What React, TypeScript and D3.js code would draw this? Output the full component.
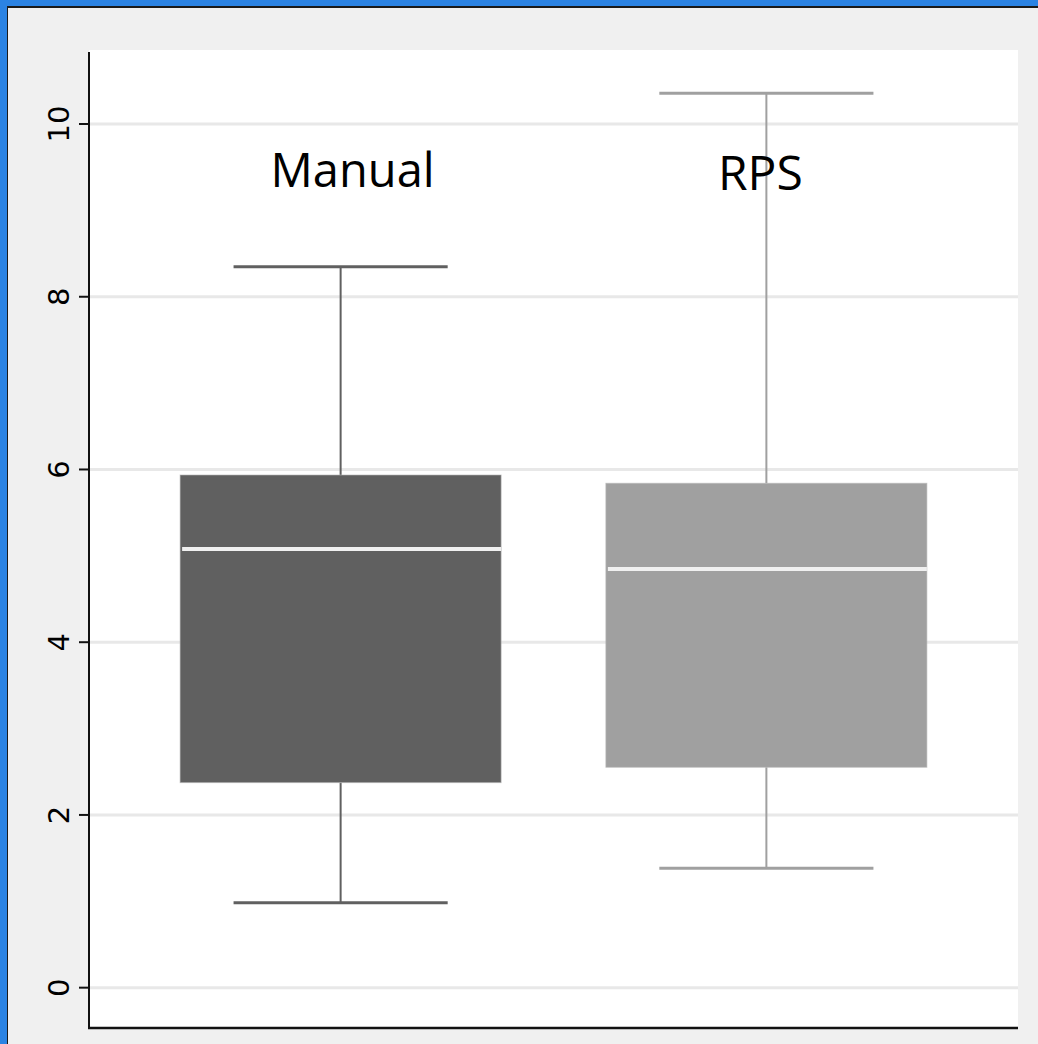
import React from "react";
import * as d3 from "d3";

// Box-plot summary for the two methods
const categories = ["Manual", "RPS"];
const q1Values = [2.374, 2.552];
const medianValues = [5.079, 4.848];
const q3Values = [5.936, 5.84];
const lowerWhiskers = [0.984, 1.382];
const upperWhiskers = [8.347, 10.355];
const yTicks = [0, 2, 4, 6, 8, 10];
const boxColors = ["#606060", "#a0a0a0"];
const labelValue = 9.27;

const W = 1038;
const H = 1044;
const plot = { left: 89, right: 1018, top: 50, bottom: 1028 };

export default function App() {
  const y = d3.scaleLinear().domain([-0.467, 10.857]).range([plot.bottom, plot.top]);
  const x = d3.scalePoint<string>().domain(categories).range([plot.left, plot.right]).padding(0.591);
  const step = x.step();
  const boxW = step * 0.754;
  const capW = boxW * 0.667;

  return (
    <svg
      width={W}
      height={H}
      style={{ position: "absolute", left: 0, top: 0, display: "block" }}
      fontFamily="'DejaVu Sans', Verdana, sans-serif"
    >
      {/* window frame */}
      <rect x={0} y={0} width={W} height={H} fill="#2b83e3" />
      <rect x={7} y={6} width={W - 7} height={H - 6} fill="#1a1a1a" />
      <rect x={8} y={8} width={W - 8} height={H - 8} fill="#f0f0f0" />

      {/* plot region */}
      <rect x={plot.left} y={plot.top} width={plot.right - plot.left} height={plot.bottom - plot.top} fill="#ffffff" />

      {/* grid lines */}
      {yTicks.map((t) => (
        <line key={"g" + t} x1={plot.left} x2={plot.right} y1={y(t)} y2={y(t)} stroke="#e8e8e8" strokeWidth={3} />
      ))}

      {/* boxes */}
      {categories.map((c, i) => {
        const cx = x(c)!;
        const col = boxColors[i];
        return (
          <g key={c}>
            <line x1={cx} x2={cx} y1={y(upperWhiskers[i])} y2={y(q3Values[i])} stroke={col} strokeWidth={2} />
            <line x1={cx} x2={cx} y1={y(q1Values[i])} y2={y(lowerWhiskers[i])} stroke={col} strokeWidth={2} />
            <line x1={cx - capW / 2} x2={cx + capW / 2} y1={y(upperWhiskers[i])} y2={y(upperWhiskers[i])} stroke={col} strokeWidth={3} />
            <line x1={cx - capW / 2} x2={cx + capW / 2} y1={y(lowerWhiskers[i])} y2={y(lowerWhiskers[i])} stroke={col} strokeWidth={3} />
            <rect
              x={cx - boxW / 2}
              y={y(q3Values[i])}
              width={boxW}
              height={y(q1Values[i]) - y(q3Values[i])}
              fill={col}
              stroke="#b4b4b4"
              strokeOpacity={0.6}
              strokeWidth={1}
            />
            <line
              x1={cx - boxW / 2 + 2}
              x2={cx + boxW / 2}
              y1={y(medianValues[i])}
              y2={y(medianValues[i])}
              stroke="#f0f0f0"
              strokeWidth={4}
            />
          </g>
        );
      })}

      {/* category labels */}
      <text x={x("Manual")! + 12} y={y(labelValue)} textAnchor="middle" fontFamily="'Open Sans', 'Noto Sans', sans-serif" fontSize={47} fill="#000">
        Manual
      </text>
      <text x={x("RPS")! - 6} y={y(labelValue) + 3} textAnchor="middle" fontFamily="'Open Sans', 'Noto Sans', sans-serif" fontSize={48} fill="#000">
        RPS
      </text>

      {/* axes */}
      <line x1={plot.left} x2={plot.left} y1={plot.top + 2} y2={plot.bottom + 1} stroke="#111" strokeWidth={2} />
      <line x1={plot.left - 1} x2={plot.right} y1={plot.bottom} y2={plot.bottom} stroke="#111" strokeWidth={2.5} />
      {yTicks.map((t) => (
        <g key={"t" + t}>
          <line x1={plot.left - 10} x2={plot.left} y1={y(t)} y2={y(t)} stroke="#111" strokeWidth={2} />
          <text transform={`translate(69,${y(t)}) rotate(-90)`} textAnchor="middle" fontSize={29} fill="#000">
            {t}
          </text>
        </g>
      ))}
    </svg>
  );
}
